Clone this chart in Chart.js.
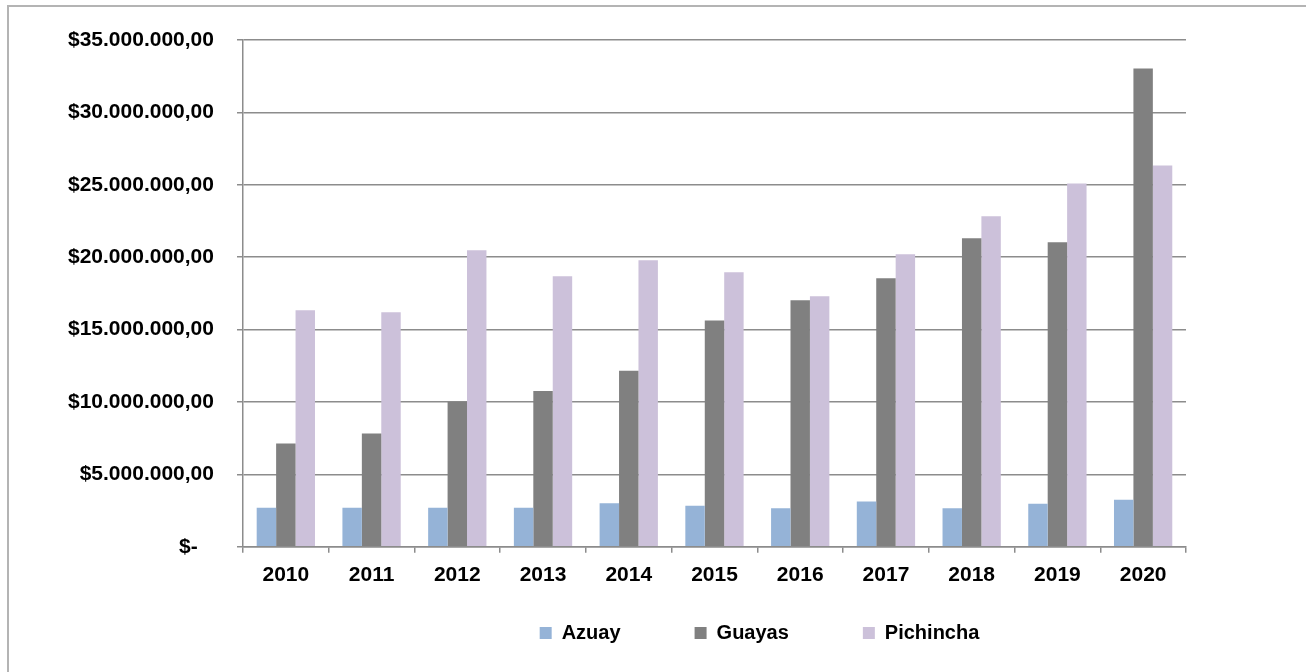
<!DOCTYPE html>
<html>
<head>
<meta charset="utf-8">
<script src="https://cdn.jsdelivr.net/npm/chart.js@4.4.1/dist/chart.umd.min.js"></script>
<style>
  html, body { margin: 0; padding: 0; background: #ffffff; }
  #wrap { position: relative; width: 1306px; height: 672px; overflow: hidden; }
  #frame { position: absolute; left: 7px; top: 5px; width: 1320px; height: 700px; border: 2px solid #b4b4b4; box-sizing: border-box; }
  #c { position: absolute; left: 0; top: 0; }
</style>
</head>
<body>
<div id="wrap">
  <div id="frame"></div>
  <canvas id="c" width="1306" height="672"></canvas>
</div>
<script>
const years = ['2010','2011','2012','2013','2014','2015','2016','2017','2018','2019','2020'];
const azuay = [2.70, 2.70, 2.70, 2.70, 3.00, 2.83, 2.67, 3.13, 2.67, 2.97, 3.25].map(v => v * 1e6);
const guayas = [7.14, 7.83, 10.02, 10.76, 12.16, 15.62, 17.02, 18.54, 21.31, 21.03, 33.03].map(v => v * 1e6);
const pichincha = [16.33, 16.19, 20.48, 18.68, 19.79, 18.96, 17.30, 20.20, 22.83, 25.09, 26.33].map(v => v * 1e6);
const seriesNames = ['Azuay', 'Guayas', 'Pichincha'];
const seriesColors = ['#95b3d7', '#808080', '#ccc1da'];
const yTickMax = 35e6;
const yTickStep = 5e6;

function fmtMoney(v) {
  if (v === 0) return '$-\u2002 ';
  const s = Math.round(v).toString().replace(/\B(?=(\d{3})+(?!\d))/g, '.');
  return '$' + s + ',00';
}

const legendShift = {
  id: 'legendShift',
  afterLayout(chart) {
    const lg = chart.legend;
    if (!lg) return;
    const dx = 144;
    lg.left += dx; lg.right += dx;
    lg.top = 549; lg.bottom = 549 + 115;
  }
};

const axisFont = { family: "'Liberation Sans', Arial, sans-serif", size: 21, weight: 'bold' };

new Chart(document.getElementById('c'), {
  type: 'bar',
  data: {
    labels: years,
    datasets: [
      { label: seriesNames[0], data: azuay, backgroundColor: seriesColors[0] },
      { label: seriesNames[1], data: guayas, backgroundColor: seriesColors[1] },
      { label: seriesNames[2], data: pichincha, backgroundColor: seriesColors[2] }
    ]
  },
  options: {
    responsive: false,
    animation: false,
    events: [],
    datasets: { bar: { categoryPercentage: 0.68, barPercentage: 1.0, borderWidth: 0 } },
    layout: { padding: { top: 40, left: 45, right: 120, bottom: 14 } },
    scales: {
      x: {
        offset: true,
        grid: { drawOnChartArea: false, drawTicks: true, tickLength: 6, color: '#8c8c8c', lineWidth: 1.5, offset: true },
        border: { display: true, color: '#8c8c8c', width: 1.5 },
        ticks: { color: '#000000', font: axisFont, padding: 10, maxRotation: 0, autoSkip: false }
      },
      y: {
        min: 0,
        max: yTickMax,
        grid: { drawTicks: true, tickLength: 6, color: '#8c8c8c', lineWidth: 1.5 },
        border: { display: true, color: '#8c8c8c', width: 1.5 },
        ticks: { stepSize: yTickStep, color: '#000000', font: axisFont, padding: 23, callback: (v) => fmtMoney(v) }
      }
    },
    plugins: {
      legend: {
        position: 'bottom',
        maxHeight: 60,
        labels: {
          boxWidth: 12, boxHeight: 12, padding: 74, color: '#000000',
          font: { family: "'Liberation Sans', Arial, sans-serif", size: 20, weight: 'bold' }
        }
      },
      tooltip: { enabled: false },
      title: { display: false }
    }
  },
  plugins: [legendShift]
});
</script>
</body>
</html>
